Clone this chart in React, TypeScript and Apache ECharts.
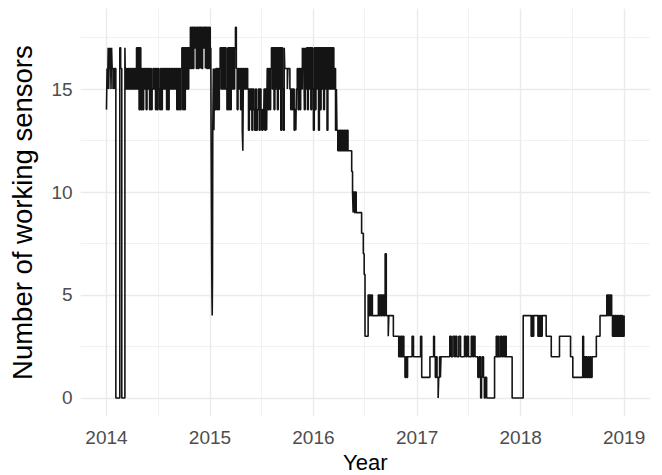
import React, { useEffect, useRef } from "react";
import * as echarts from "echarts";

// Change points: [days since 2014-01-01, number of working sensors]
const changes2014: [number, number][] = [
  [0, 14], [2, 16], [4, 15], [6, 17], [8, 15], [10, 17], [12, 16], [14, 17], [16, 15], [18, 17], [20, 16], [23, 15], [25, 16], [28, 15], [30, 16],
  [33, 0], [47, 17], [50, 16], [54, 0], [65, 17], [67, 15],
  [70, 16], [73, 15], [76, 16], [79, 15], [82, 16], [85, 15], [88, 16], [91, 15], [94, 16], [97, 15], [100, 16], [103, 15],
  [106, 17], [109, 15], [112, 17], [115, 14], [118, 17], [121, 14], [124, 16], [127, 14], [131, 16], [134, 15],
  [137, 16], [140, 14], [143, 16], [146, 15], [149, 16], [152, 14], [155, 16], [158, 14], [161, 15],
  [164, 16], [167, 15], [170, 16], [173, 14], [176, 16], [179, 14], [182, 16], [185, 15], [188, 14], [191, 16], [194, 14], [197, 16], [200, 15], [203, 16], [206, 15], [209, 16], [212, 14], [215, 16], [218, 14], [221, 16], [224, 15], [227, 16], [230, 15], [233, 16], [236, 15],
  [239, 16], [242, 15], [245, 16], [248, 14], [251, 16], [254, 14], [257, 16], [260, 14], [263, 16],
  [266, 17], [269, 14], [272, 17], [275, 14], [278, 17], [281, 15], [284, 17], [287, 15], [290, 17], [293, 16],
  [296, 18], [299, 16], [302, 18], [305, 16], [308, 18], [311, 17], [314, 18], [317, 16], [320, 18], [323, 16], [326, 18], [331, 16], [333, 18], [336, 16], [339, 18], [342, 17], [345, 18], [349, 16], [351, 18], [354, 16], [357, 18], [360, 16], [363, 18],
];

const changes2015: [number, number][] = [
  [366, 16], [368, 17], [369, 13], [371, 7], [372, 5], [373, 4], [374, 6], [375, 13], [377, 16], [379, 13], [381, 16], [383, 14], [386, 16], [389, 14], [392, 16], [395, 14], [398, 16],
  [401, 17], [404, 15], [407, 17], [410, 15], [413, 17], [416, 15], [419, 17], [422, 15], [425, 14], [428, 17], [431, 14], [434, 17], [437, 14], [440, 17], [443, 15], [446, 17], [449, 15], [452, 17], [455, 18], [458, 16],
  [461, 14], [464, 16], [467, 15], [470, 16], [473, 14], [476, 16], [479, 13], [481, 12], [483, 16], [486, 15], [489, 16], [492, 15], [495, 16], [498, 15],
  [501, 13], [504, 15], [507, 14], [510, 15], [513, 13], [516, 15], [520, 14], [523, 13], [526, 15], [529, 13], [532, 14], [536, 15], [539, 13], [542, 15], [545, 14], [548, 13], [551, 14], [554, 13],
  [556, 15], [559, 13], [562, 15], [565, 13], [567, 16], [570, 14], [573, 16], [576, 14], [579, 16],
  [582, 17], [585, 15], [588, 17], [591, 14], [594, 17], [597, 15], [600, 17], [603, 14], [606, 17], [609, 15], [612, 17], [615, 13], [618, 17], [621, 15], [624, 13], [627, 17],
  [629, 16], [638, 15], [640, 16],
  [647, 15], [650, 14], [653, 15], [656, 14], [659, 15], [662, 13], [665, 14], [668, 13], [670, 15],
  [673, 16], [676, 14], [679, 16], [682, 14], [685, 16], [688, 15], [691, 17], [693, 16], [696, 17], [698, 14], [701, 17], [703, 15], [706, 17],
  [709, 14], [712, 17], [715, 15], [718, 17], [721, 14], [724, 17], [727, 15],
];

const changes2016: [number, number][] = [
  [730, 13], [733, 17], [736, 14], [739, 17], [742, 15], [745, 17], [748, 13], [751, 17], [754, 14], [757, 17], [760, 15], [763, 17], [766, 14], [769, 17], [772, 15], [775, 17], [778, 13], [781, 17], [784, 15], [787, 17],
  [790, 15], [793, 17], [796, 15], [799, 17], [802, 15], [805, 16], [808, 13], [811, 15], [813, 13], [816, 12], [819, 13],
  [822, 12], [825, 13], [828, 12], [831, 13], [834, 12], [837, 13], [840, 12], [843, 13], [846, 12], [849, 13], [852, 12],
  [865, 11], [868, 10], [870, 9], [872, 10], [875, 9], [878, 10], [881, 9], [900, 8], [906, 7], [909, 6], [912, 3],
  [923, 5], [926, 4], [929, 5], [932, 4], [935, 5], [938, 4],
  [959, 5], [962, 4], [965, 5], [968, 4], [971, 5], [974, 4], [977, 5], [980, 4], [983, 7], [987, 4], [994, 3], [996, 4], [1012, 3],
  [1031, 2], [1034, 3], [1037, 2], [1040, 3], [1043, 2], [1046, 3], [1049, 2], [1053, 1], [1056, 2], [1059, 1], [1062, 2], [1078, 3], [1083, 2],
];

const changes2017: [number, number][] = [
  [1108, 3], [1112, 1], [1141, 2], [1154, 3], [1157, 2], [1160, 1], [1163, 2], [1166, 1], [1170, 0], [1172, 1], [1175, 2], [1178, 1], [1180, 2],
  [1211, 3], [1216, 2], [1222, 3], [1228, 2], [1231, 3], [1236, 2], [1243, 3], [1249, 2], [1263, 3], [1268, 2], [1272, 3], [1277, 2], [1287, 3], [1292, 2], [1295, 3], [1300, 2],
  [1310, 1], [1315, 2], [1320, 0], [1323, 1], [1326, 2], [1330, 1], [1333, 0], [1336, 1], [1341, 0], [1369, 2],
  [1375, 3], [1378, 2], [1381, 3], [1384, 2], [1390, 3], [1395, 2], [1400, 3], [1404, 2], [1407, 3], [1410, 2], [1431, 0],
];

const changes2018: [number, number][] = [
  [1470, 4], [1498, 3], [1501, 4], [1504, 3], [1507, 4], [1522, 3], [1525, 4], [1528, 3], [1531, 4], [1534, 3], [1537, 4], [1551, 3], [1569, 2], [1598, 3], [1637, 2], [1645, 1],
  [1680, 3], [1683, 1], [1686, 2], [1689, 1], [1692, 2], [1695, 1], [1699, 2], [1702, 1], [1706, 2], [1709, 1], [1713, 2], [1728, 3], [1741, 4],
  [1765, 5], [1768, 4], [1771, 5], [1775, 4], [1778, 5], [1782, 4], [1785, 3], [1788, 4], [1791, 3], [1794, 4], [1797, 3], [1800, 4], [1803, 3], [1806, 4], [1809, 3], [1812, 4], [1815, 3], [1818, 4], [1821, 3], [1826, 4],
];

// Axis ticks
const yearLabels = ["2014", "2015", "2016", "2017", "2018", "2019"];
const yearDays = [0, 365, 730, 1096, 1461, 1826];
const halfYearDays = [181, 546, 911, 1277, 1642];
const yMajor = [0, 5, 10, 15];
const yMinor = [2.5, 7.5, 12.5, 17.5];

const FONT = "'Liberation Sans', Arial, Helvetica, sans-serif";

export default function App() {
  const ref = useRef<HTMLDivElement>(null);

  useEffect(() => {
    if (!ref.current) return;
    const chart = echarts.init(ref.current, undefined, { renderer: "svg" });
    const data = [...changes2014, ...changes2015, ...changes2016, ...changes2017, ...changes2018];

    const major = { color: "#EBEBEB", width: 1.4, type: "solid" as const };
    const minor = { color: "#EBEBEB", width: 0.7, type: "solid" as const };
    const gridLines = [
      ...yearDays.map((d) => ({ xAxis: d, lineStyle: major })),
      ...halfYearDays.map((d) => ({ xAxis: d, lineStyle: minor })),
      ...yMajor.map((v) => ({ yAxis: v, lineStyle: major })),
      ...yMinor.map((v) => ({ yAxis: v, lineStyle: minor })),
    ];

    chart.setOption({
      animation: false,
      backgroundColor: "#FFFFFF",
      grid: {
        left: 80.6,
        right: 12,
        top: 8.7,
        bottom: 58.5,
        containLabel: false,
        outerBoundsMode: "none",
      },
      xAxis: {
        type: "value",
        min: -91.3,
        max: 1917.3,
        axisLine: { show: false },
        axisTick: { show: false },
        splitLine: { show: false },
        axisLabel: {
          customValues: yearDays,
          formatter: (v: number) => yearLabels[yearDays.indexOf(Math.round(v))] ?? "",
          color: "#4D4D4D",
          fontSize: 19,
          fontFamily: FONT,
          margin: 11,
        },
        name: "Year",
        nameLocation: "middle",
        nameGap: 34,
        nameTextStyle: { color: "#000000", fontSize: 22, fontFamily: FONT },
      },
      yAxis: {
        type: "value",
        min: -0.9,
        max: 18.9,
        axisLine: { show: false },
        axisTick: { show: false },
        splitLine: { show: false },
        axisLabel: {
          customValues: yMajor,
          formatter: (v: number) => String(Math.round(v)),
          color: "#4D4D4D",
          fontSize: 19,
          fontFamily: FONT,
          margin: 8,
        },
        name: "Number of working sensors",
        nameLocation: "middle",
        nameGap: 44,
        nameRotate: 90,
        nameTextStyle: { color: "#000000", fontSize: 27.5, fontFamily: FONT },
      },
      series: [
        {
          type: "line",
          step: "end",
          data,
          showSymbol: false,
          symbol: "none",
          z: 3,
          lineStyle: { color: "#141414", width: 1.6 },
          emphasis: { disabled: true },
          markLine: {
            silent: true,
            z: 1,
            symbol: ["none", "none"],
            label: { show: false },
            emphasis: { disabled: true },
            data: gridLines,
          },
        },
      ],
    });
    return () => chart.dispose();
  }, []);

  return (
    <div
      ref={ref}
      style={{ position: "fixed", left: 0, top: 0, width: 662, height: 475, background: "#fff" }}
    />
  );
}
